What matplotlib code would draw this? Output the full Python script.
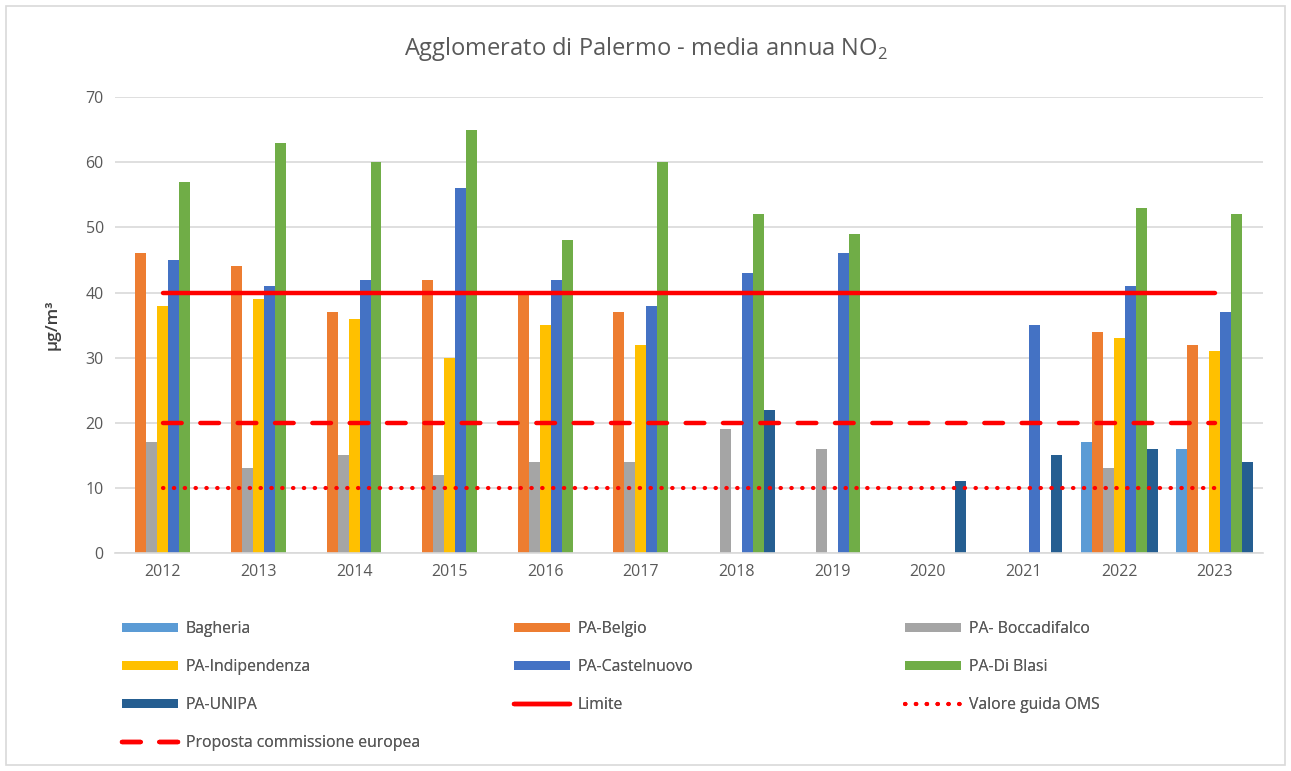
import numpy as np
import matplotlib
matplotlib.use("Agg")
import matplotlib.pyplot as plt
from matplotlib.patches import Rectangle

plt.rcParams["font.family"] = ["Open Sans", "DejaVu Sans"]
plt.rcParams["mathtext.fontset"] = "custom"
plt.rcParams["mathtext.rm"] = "Open Sans"

years = ["2012", "2013", "2014", "2015", "2016", "2017",
         "2018", "2019", "2020", "2021", "2022", "2023"]
nan = np.nan

bagheria = [nan, nan, nan, nan, nan, nan, nan, nan, nan, nan, 17, 16]
belgio = [46, 44, 37, 42, 40, 37, nan, nan, nan, nan, 34, 32]
boccadifalco = [17, 13, 15, 12, 14, 14, 19, 16, nan, nan, 13, nan]
indipendenza = [38, 39, 36, 30, 35, 32, nan, nan, nan, nan, 33, 31]
castelnuovo = [45, 41, 42, 56, 42, 38, 43, 46, nan, 35, 41, 37]
di_blasi = [57, 63, 60, 65, 48, 60, 52, 49, nan, nan, 53, 52]
unipa = [nan, nan, nan, nan, nan, nan, 22, nan, 11, 15, 16, 14]

limite = [40] * len(years)
proposta_ue = [20] * len(years)
valore_oms = [10] * len(years)

series = [
    ("Bagheria", bagheria, "#5B9BD5"),
    ("PA-Belgio", belgio, "#ED7D31"),
    ("PA- Boccadifalco", boccadifalco, "#A5A5A5"),
    ("PA-Indipendenza", indipendenza, "#FFC000"),
    ("PA-Castelnuovo", castelnuovo, "#4472C4"),
    ("PA-Di Blasi", di_blasi, "#70AD47"),
    ("PA-UNIPA", unipa, "#255E91"),
]

fig = plt.figure(figsize=(12.91, 7.71), dpi=100)
ax = fig.add_axes([0.089, 0.2827, 0.889, 0.5913])

x = np.arange(len(years))
width = 0.115
handles = {}
for i, (name, vals, color) in enumerate(series):
    b = ax.bar(x + (i - 3) * width, vals, width, color=color, label=name, zorder=2)
    handles[name] = b

red = "#FF0000"
(h_lim,) = ax.plot(x, limite, color=red, lw=3.2, solid_capstyle="round", zorder=3, label="Limite")
(h_oms,) = ax.plot(x, valore_oms, color=red, lw=3.0, linestyle=(0, (0.1, 2.5)),
                   dash_capstyle="round", zorder=3, label="Valore guida OMS")
(h_ue,) = ax.plot(x, proposta_ue, color=red, lw=3.2, linestyle=(0, (4.2, 4.2)),
                  dash_capstyle="round", zorder=3, label="Proposta commissione europea")

ax.set_xlim(-0.5, len(years) - 0.5)
ax.set_ylim(0, 70)
ax.set_yticks(range(0, 71, 10))
ax.set_xticks(x)
ax.set_xticklabels(years)
ax.tick_params(length=0, labelsize=11.5, colors="#595959", pad=8)
ax.yaxis.grid(True, color="#D9D9D9", lw=1.2, zorder=0)
ax.set_axisbelow(True)
for s in ["top", "right", "left"]:
    ax.spines[s].set_visible(False)
ax.spines["bottom"].set_color("#D9D9D9")
ax.spines["bottom"].set_linewidth(1.2)

ax.set_ylabel("µg/m³", fontsize=12.5, color="#404040", labelpad=18, fontweight="semibold")

fig.suptitle("Agglomerato di Palermo - media annua NO$_2$", fontsize=17,
             color="#595959", y=0.955)

# legend laid out as three separate columns, like the Excel one
columns = [
    [handles["Bagheria"], handles["PA-Indipendenza"], handles["PA-UNIPA"], h_ue],
    [handles["PA-Belgio"], handles["PA-Castelnuovo"], h_lim],
    [handles["PA- Boccadifalco"], handles["PA-Di Blasi"], h_oms],
]
col_x = [0.0945, 0.398, 0.701]
for hs, cx in zip(columns, col_x):
    leg = fig.legend(hs, [h.get_label() for h in hs], loc="upper left",
                     bbox_to_anchor=(cx, 0.195), frameon=False, fontsize=11.3,
                     labelcolor="#595959", handlelength=3.6, handleheight=0.5,
                     handletextpad=0.45, labelspacing=1.4,
                     borderpad=0, borderaxespad=0)
    fig.add_artist(leg)

fig.patches.append(Rectangle((0.005, 0.008), 0.99, 0.984, transform=fig.transFigure,
                             fill=False, edgecolor="#D9D9D9", lw=1.2))

fig.savefig("out.png", dpi=100)
